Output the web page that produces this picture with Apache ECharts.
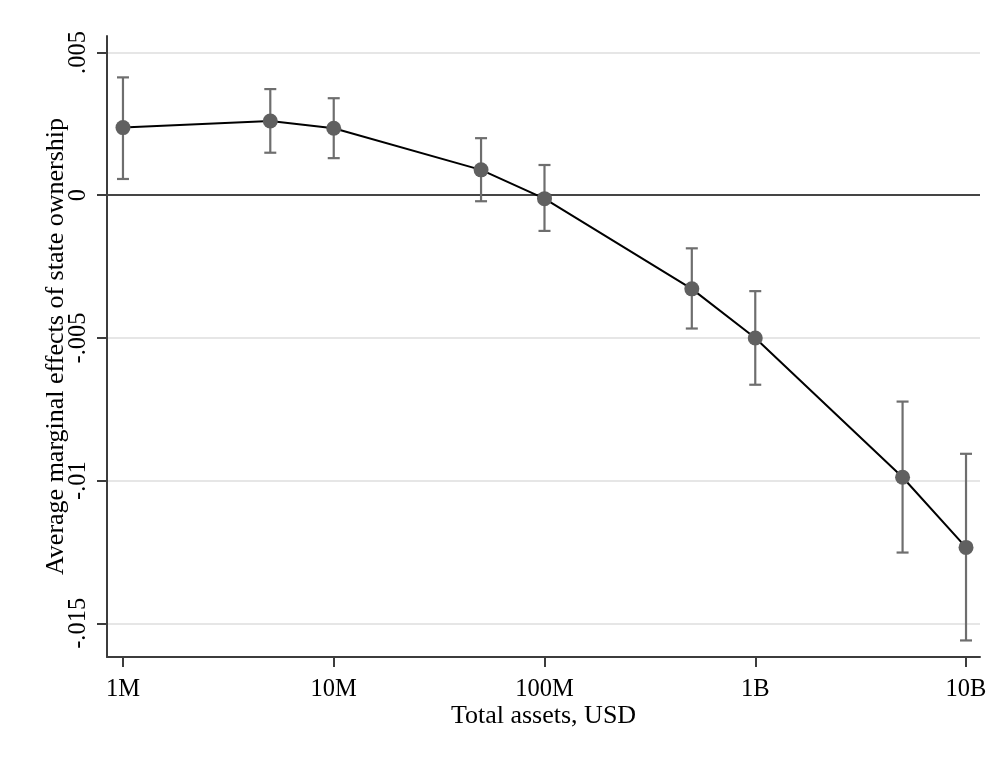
<!DOCTYPE html>
<html>
<head>
<meta charset="utf-8">
<script src="https://cdn.jsdelivr.net/npm/echarts@6/dist/echarts.min.js"></script>
<style>html,body{margin:0;padding:0;background:#fff;}#chart{width:995px;height:759px;}</style>
</head>
<body>
<div id="chart"></div>
<script>
// Total assets (USD) at which marginal effects were evaluated
const assets = [1e6, 5e6, 1e7, 5e7, 1e8, 5e8, 1e9, 5e9, 1e10];
// Average marginal effects of state ownership
const effects = [0.00237, 0.00260, 0.00235, 0.00089, -0.00012, -0.00328, -0.00500, -0.00988, -0.01234];
// Confidence interval bounds
const ciUpper = [0.00413, 0.00372, 0.00340, 0.00200, 0.00106, -0.00186, -0.00336, -0.00723, -0.00906];
const ciLower = [0.00057, 0.00149, 0.00130, -0.00021, -0.00125, -0.00467, -0.00664, -0.01252, -0.01560];
// Axis ticks
const xTickValues = [1e6, 1e7, 1e8, 1e9, 1e10];
const xTickLabels = ['1M', '10M', '100M', '1B', '10B'];
const yTickValues = [0.005, 0, -0.005, -0.01, -0.015];
const yTickLabels = ['.005', '0', '-.005', '-.01', '-.015'];

const FONT = "'Liberation Serif', 'Times New Roman', serif";
const chart = echarts.init(document.getElementById('chart'), null, {renderer: 'canvas'});

function labelFor(values, labels, v) {
  for (let i = 0; i < values.length; i++) {
    if (Math.abs(values[i] - v) <= Math.abs(values[i]) * 1e-6 + 1e-12) return labels[i];
  }
  return '';
}

const linePts = assets.map((a, i) => [a, effects[i]]);
const ciPts = assets.map((a, i) => [a, ciLower[i], ciUpper[i]]);

chart.setOption({
  animation: false,
  backgroundColor: '#ffffff',
  grid: {left: 107, right: 15, top: 36, bottom: 102, containLabel: false, outerBoundsMode: 'none'},
  xAxis: {
    type: 'log',
    logBase: 10,
    min: 839900,
    max: 1.165e10,
    name: 'Total assets, USD',
    nameLocation: 'middle',
    nameGap: 46,
    nameMoveOverlap: false,
    nameTextStyle: {fontFamily: FONT, fontSize: 26, color: '#000'},
    axisLine: {show: true, onZero: false, lineStyle: {color: '#3c3c3c', width: 2}},
    axisTick: {show: true, length: 10, customValues: xTickValues, lineStyle: {color: '#3c3c3c', width: 2}},
    axisLabel: {
      show: true, margin: 20, customValues: xTickValues,
      fontFamily: FONT, fontSize: 24.5, color: '#000',
      formatter: v => labelFor(xTickValues, xTickLabels, v)
    },
    splitLine: {show: false},
    minorTick: {show: false},
    minorSplitLine: {show: false}
  },
  yAxis: {
    type: 'value',
    min: -0.01618,
    max: 0.00558,
    name: 'Average marginal effects of state ownership',
    nameLocation: 'middle',
    nameGap: 38,
    nameMoveOverlap: false,
    nameTextStyle: {fontFamily: FONT, fontSize: 26, color: '#000'},
    axisLine: {show: true, onZero: false, lineStyle: {color: '#3c3c3c', width: 2}},
    axisTick: {show: true, length: 10, customValues: yTickValues, lineStyle: {color: '#3c3c3c', width: 2}},
    axisLabel: {
      show: true, margin: 16, rotate: 90, customValues: yTickValues,
      fontFamily: FONT, fontSize: 24.5, color: '#000',
      formatter: v => labelFor(yTickValues, yTickLabels, v)
    },
    splitLine: {show: true, lineStyle: {color: '#e6e6e6', width: 2}}
  },
  series: [
    {
      type: 'custom',
      name: 'CI',
      z: 2,
      silent: true,
      data: ciPts,
      encode: {x: 0, y: [1, 2]},
      renderItem: function (params, api) {
        const x = api.value(0);
        const lo = api.coord([x, api.value(1)]);
        const hi = api.coord([x, api.value(2)]);
        const hw = 6;
        const style = {stroke: '#6e6e6e', lineWidth: 2.2, fill: null};
        return {
          type: 'group',
          children: [
            {type: 'line', shape: {x1: lo[0], y1: lo[1], x2: hi[0], y2: hi[1]}, style: style},
            {type: 'line', shape: {x1: hi[0] - hw, y1: hi[1], x2: hi[0] + hw, y2: hi[1]}, style: style},
            {type: 'line', shape: {x1: lo[0] - hw, y1: lo[1], x2: lo[0] + hw, y2: lo[1]}, style: style}
          ]
        };
      }
    },
    {
      type: 'line',
      name: 'AME',
      z: 3,
      data: linePts,
      symbol: 'circle',
      symbolSize: 15,
      showSymbol: true,
      silent: true,
      lineStyle: {color: '#000', width: 2},
      itemStyle: {color: '#606060', borderWidth: 0},
      markLine: {
        silent: true,
        symbol: 'none',
        label: {show: false},
        z: 1,
        lineStyle: {color: '#454545', width: 2, type: 'solid'},
        data: [{yAxis: 0}]
      }
    }
  ]
});
</script>
</body>
</html>
